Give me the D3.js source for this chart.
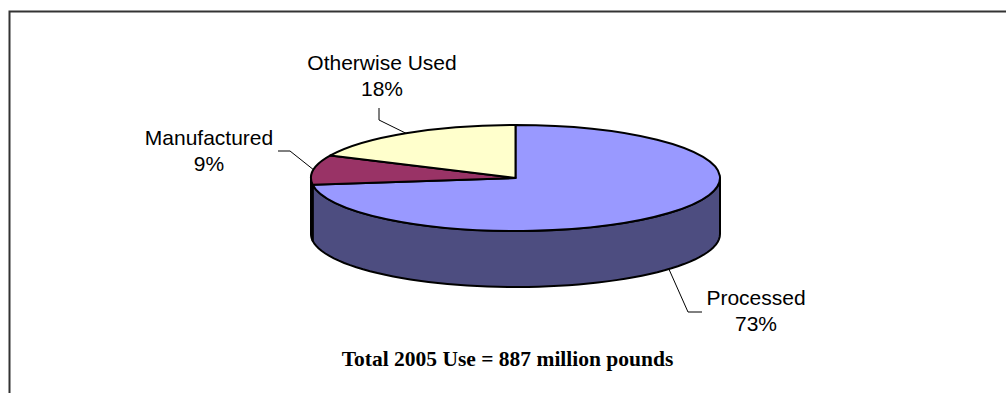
<!DOCTYPE html>
<html>
<head>
<meta charset="utf-8">
<script src="https://cdn.jsdelivr.net/npm/d3@7/dist/d3.min.js"></script>
<style>
  body { margin: 0; background: #fff; }
  svg { display: block; }
</style>
</head>
<body>
<svg width="1006" height="393"></svg>
<script>
// data
var categories = ["Processed", "Manufactured", "Otherwise Used"];
var shares = [73, 9, 18];
var pctLabels = ["73%", "9%", "18%"];
var title = "Total 2005 Use = 887 million pounds";

// colours
var topColors = ["#9999ff", "#993366", "#ffffcc"];
var sideColors = ["#4d4d80", "#4d1a33", "#808066"];

var svg = d3.select("svg"),
    width = 1006,
    height = 393

// chart frame (runs off the right/bottom edge)
svg.append("rect")
  .attr("x", 9.5).attr("y", 11.5)
  .attr("width", 1100).attr("height", 500)
  .attr("fill", "none")
  .attr("stroke", "#333")
  .attr("stroke-width", 2)

// pie geometry
var cx = 515.5, cy = 178, rx = 204.5, ry = 53, depth = 56;

var pie = d3.pie().sort(null).startAngle(0).endAngle(2 * Math.PI);
var slices = pie(shares);

function pt(a, dy) {
  return [cx + rx * Math.sin(a), cy - ry * Math.cos(a) + (dy || 0)];
}

// side walls, only the front half (pi/2 .. 3pi/2) shows
var line = d3.line();
var sides = svg.append("g");
slices.forEach(function(s, i) {
  var a0 = Math.max(s.startAngle, Math.PI / 2),
      a1 = Math.min(s.endAngle, 3 * Math.PI / 2);
  if (a1 <= a0) return;
  var n = 60, pts = [];
  for (var k = 0; k <= n; k++) pts.push(pt(a0 + (a1 - a0) * k / n, 0));
  for (var k = n; k >= 0; k--) pts.push(pt(a0 + (a1 - a0) * k / n, depth));
  sides.append("path")
    .attr("d", line(pts) + "Z")
    .attr("fill", sideColors[i])
    .attr("stroke", "#000")
    .attr("stroke-width", 2)
    .attr("stroke-linejoin", "round")
})

// top faces: circle arcs squashed to an ellipse
var arc = d3.arc().innerRadius(0).outerRadius(rx);
svg.append("g")
  .attr("transform", "translate(" + cx + "," + cy + ") scale(1," + (ry / rx) + ")")
  .selectAll("path")
  .data(slices)
  .enter()
  .append("path")
    .attr("d", arc)
    .attr("fill", function(d, i) { return topColors[i] })
    .attr("stroke", "#000")
    .attr("stroke-width", 2)
    .attr("stroke-linejoin", "round")
    .attr("vector-effect", "non-scaling-stroke")

// label layout: text centre x, first baseline y, and leader elbows
var labelPos = [
  {x: 756, y: 305, elbow: [[688, 312], [702, 312]], side: true},
  {x: 209, y: 145, elbow: [[290, 151], [278, 151]], side: false},
  {x: 382, y: 70, elbow: [[379, 120], [379, 108]], side: false}
];

slices.forEach(function(s, i) {
  var mid = (s.startAngle + s.endAngle) / 2;
  var start = pt(mid, labelPos[i].side ? depth : 0);
  svg.append("path")
    .attr("d", line([start].concat(labelPos[i].elbow)))
    .attr("fill", "none")
    .attr("stroke", "#000")
    .attr("stroke-width", 1)

  var t = svg.append("text")
    .attr("x", labelPos[i].x)
    .attr("y", labelPos[i].y)
    .attr("text-anchor", "middle")
    .style("font-family", "'Liberation Sans', Arial, sans-serif")
    .style("font-size", "21px")
    .attr("fill", "#000")
  t.append("tspan").attr("x", labelPos[i].x).text(categories[i])
  t.append("tspan").attr("x", labelPos[i].x).attr("dy", 26).text(pctLabels[i])
})

// caption
svg.append("text")
  .attr("x", 507.5)
  .attr("y", 366)
  .attr("text-anchor", "middle")
  .style("font-family", "'Liberation Serif', 'Times New Roman', serif")
  .style("font-weight", "bold")
  .style("font-size", "21.5px")
  .text(title)
</script>
</body>
</html>
